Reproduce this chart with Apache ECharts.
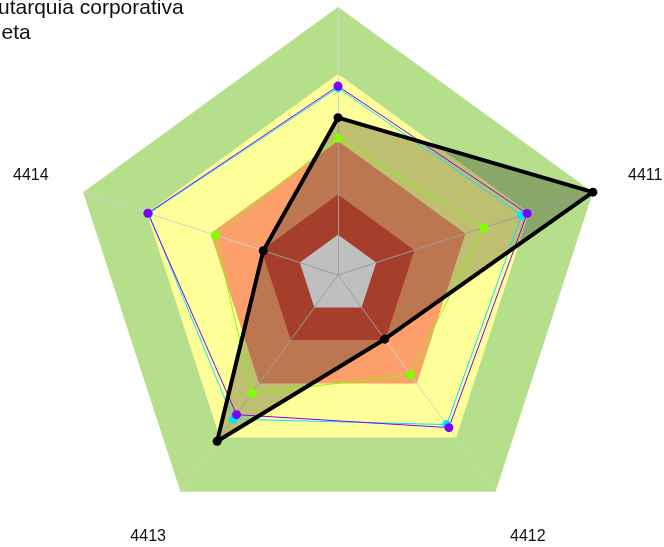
<!DOCTYPE html>
<html>
<head>
<meta charset="utf-8">
<title>Radar 4410–4414</title>
<script src="https://cdn.jsdelivr.net/npm/echarts@6/dist/echarts.min.js"></script>
<style>
  html, body { margin: 0; padding: 0; background: #ffffff; }
  #chart { width: 664px; height: 547px; }
</style>
</head>
<body>
<div id="chart"></div>
<script>
// Indicators, in their natural order (top, then clockwise)
const categories = ['4410', '4411', '4412', '4413', '4414'];

// Reference bands drawn behind the series (percent of the maximum)
const bandLevels = [100, 75, 50, 30, 15];

// Series values per indicator, same order as categories
const autarquia = [58.7, 100, 29.6, 76.7, 29.3];
const meta = [70.5, 74.2, 70.4, 64.4, 74.6];
const mediaGeral = [69.8, 72.0, 69.0, 66.5, 74.3];
const mediana = [51.0, 57.2, 46.0, 54.6, 48.1];

const indicatorMax = 100;

// Band fill colours, outermost first
const bandColors = ['#b6df8c', '#ffff99', '#fc9f6b', '#dd553b', '#ffffff'];

// ECharts lays radar axes out counter-clockwise; the chart reads clockwise
const order = [0, 4, 3, 2, 1];
const toRadar = arr => order.map(i => arr[i]);

const chart = echarts.init(document.getElementById('chart'), null, { renderer: 'canvas' });

const font = 'Liberation Sans, Arial, sans-serif';

const option = {
  animation: false,
  backgroundColor: '#ffffff',
  legend: {
    orient: 'vertical',
    left: -51,
    top: -7,
    itemGap: 4,
    itemWidth: 25,
    itemHeight: 14,
    textStyle: { fontSize: 21, color: '#111111', fontFamily: font },
    data: ['Autarquia corporativa', 'Meta']
  },
  radar: {
    z: 2,
    center: [338, 275],
    radius: 268,
    startAngle: 90,
    shape: 'polygon',
    splitNumber: 1,
    nameGap: 55,
    indicator: toRadar(categories).map(name => ({ name, max: indicatorMax, min: 0 })),
    axisName: {
      color: '#111111',
      fontSize: 16,
      fontFamily: font,
      align: 'center',
      verticalAlign: 'middle'
    },
    axisLine: { lineStyle: { color: '#d2d2d2', width: 1 } },
    splitLine: { show: false },
    splitArea: { show: false },
    axisTick: { show: false },
    axisLabel: { show: false }
  },
  series: [
    {
      name: 'Faixas',
      type: 'radar',
      z: 1,
      silent: true,
      symbol: 'none',
      lineStyle: { width: 0, opacity: 0 },
      data: bandLevels.map((lvl, i) => ({
        value: categories.map(() => lvl),
        areaStyle: { color: bandColors[i], opacity: 1 }
      }))
    },
    {
      name: 'Autarquia área',
      type: 'radar',
      z: 3,
      silent: true,
      symbol: 'none',
      lineStyle: { width: 0, opacity: 0 },
      areaStyle: { color: '#000000', opacity: 0.25 },
      data: [{ value: toRadar(autarquia) }]
    },
    {
      name: 'Mediana',
      type: 'radar',
      z: 4,
      symbol: 'circle',
      symbolSize: 9,
      itemStyle: { color: '#80ff00' },
      lineStyle: { color: '#80ff00', width: 1 },
      data: [{ value: toRadar(mediana) }]
    },
    {
      name: 'Média geral',
      type: 'radar',
      z: 4,
      symbol: 'circle',
      symbolSize: 9,
      itemStyle: { color: '#00e5ff' },
      lineStyle: { color: '#00e5ff', width: 1 },
      data: [{ value: toRadar(mediaGeral) }]
    },
    {
      name: 'Meta',
      type: 'radar',
      z: 4,
      symbol: 'circle',
      symbolSize: 9,
      itemStyle: { color: '#8000ff' },
      lineStyle: { color: '#8000ff', width: 1 },
      data: [{ value: toRadar(meta) }]
    },
    {
      name: 'Autarquia corporativa',
      type: 'radar',
      z: 5,
      symbol: 'circle',
      symbolSize: 9,
      itemStyle: { color: '#000000' },
      lineStyle: { color: '#000000', width: 4 },
      data: [{ value: toRadar(autarquia) }]
    }
  ]
};

chart.setOption(option);
</script>
</body>
</html>
